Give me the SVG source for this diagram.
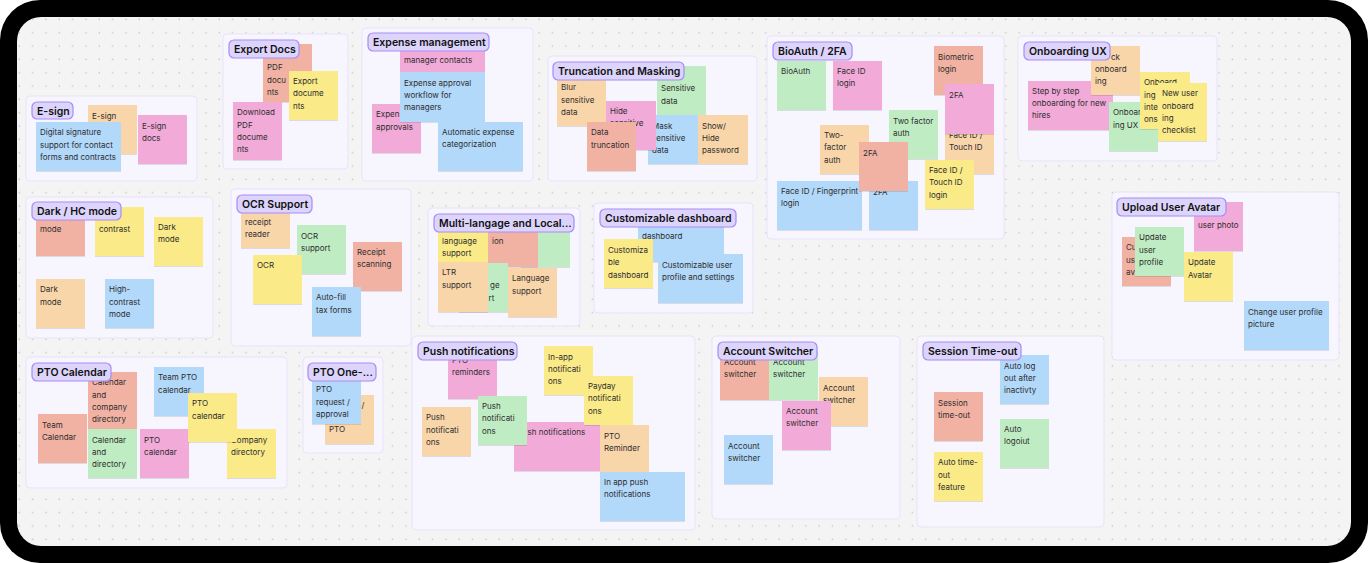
<svg xmlns="http://www.w3.org/2000/svg" width="1368" height="563" viewBox="0 0 1368 563">
<style>
.sec{fill:#f7f5fe;stroke:#e8e3fb;stroke-width:1}
.tag{fill:#ddd4fc;stroke:#a78bf6;stroke-width:1.2}
.tt{font-family:Inter,"Liberation Sans",sans-serif;font-size:10.5px;font-weight:600;fill:#111}
.n{filter:url(#sh)}
.y{fill:#faea88}.b{fill:#b2d8fa}.p{fill:#f2aad8}.g{fill:#c0ecc4}.o{fill:#f9d5aa}.s{fill:#f1b2a3}
.nt{font-family:Inter,"Liberation Sans",sans-serif;font-size:8px;fill:#2e2e2e}
</style>
<defs>
<pattern id="dots" width="13.33" height="13.33" patternUnits="userSpaceOnUse"><circle cx="6" cy="6" r="0.8" fill="#c4c4c4"/></pattern>
<filter id="sh" x="-10%" y="-10%" width="120%" height="125%"><feDropShadow dx="0" dy="0.6" stdDeviation="0.6" flood-color="#000" flood-opacity="0.18"/></filter>
</defs>
<rect width="1368" height="563" fill="#fff"/>
<rect x="0" y="0" width="1368" height="563" rx="40" fill="#000"/>
<rect x="17" y="17" width="1334" height="529" rx="24" fill="#f4f4f4"/>
<rect x="17" y="17" width="1334" height="529" rx="24" fill="url(#dots)"/>
<g id="connectors"/>

<g id="sec-esign">
<rect class="sec" x="26" y="96" width="171" height="85" rx="4"/>
<g id="n-esign1"><rect class="n o" x="88" y="105" width="49" height="49"/><text class="nt" x="92" y="118.7">E-sign</text></g>
<g id="n-esign2"><rect class="n p" x="138" y="115" width="49" height="49"/><text class="nt" y="128.7"><tspan x="142">E-sign</tspan><tspan x="142" dy="12.3">docs</tspan></text></g>
<g id="n-esign3"><rect class="n b" x="36" y="122" width="85" height="49"/><text class="nt" y="135.3"><tspan x="40">Digital signature</tspan><tspan x="40" dy="12.3">support for contact</tspan><tspan x="40" dy="12.3">forms and contracts</tspan></text></g>
<g id="t-esign"><rect class="tag" x="32" y="102" width="41" height="17" rx="5"/><text class="tt" x="37" y="114.5">E-sign</text></g>
</g>

<g id="sec-export">
<rect class="sec" x="223" y="34" width="125" height="135" rx="4"/>
<g id="n-exp1"><rect class="n s" x="263" y="44" width="49" height="58"/><text class="nt" y="70.3"><tspan x="267">PDF</tspan><tspan x="267" dy="12.3">docu</tspan><tspan x="267" dy="12.3">nts</tspan></text></g>
<g id="n-exp2"><rect class="n y" x="289" y="71" width="49" height="49"/><text class="nt" y="84"><tspan x="293">Export</tspan><tspan x="293" dy="12.3">docume</tspan><tspan x="293" dy="12.3">nts</tspan></text></g>
<g id="n-exp3"><rect class="n p" x="233" y="102" width="49" height="58"/><text class="nt" y="115.3"><tspan x="237">Download</tspan><tspan x="237" dy="12.3">PDF</tspan><tspan x="237" dy="12.3">docume</tspan><tspan x="237" dy="12.3">nts</tspan></text></g>
<g id="t-export"><rect class="tag" x="229" y="40" width="70" height="18" rx="5"/><text class="tt" x="234" y="53">Export Docs</text></g>
</g>

<g id="sec-expense">
<rect class="sec" x="362" y="28" width="171" height="153" rx="4"/>
<g id="n-ex1"><rect class="n p" x="400" y="37" width="85" height="49"/><text class="nt" x="404" y="63.3">manager contacts</text></g>
<g id="n-ex2"><rect class="n p" x="372" y="104" width="49" height="49"/><text class="nt" y="117.3"><tspan x="376">Expen</tspan><tspan x="376" dy="12.3">approvals</tspan></text></g>
<g id="n-ex3"><rect class="n b" x="400" y="72" width="85" height="50"/><text class="nt" y="85.7"><tspan x="404">Expense approval</tspan><tspan x="404" dy="12.3">workflow for</tspan><tspan x="404" dy="12.3">managers</tspan></text></g>
<g id="n-ex4"><rect class="n b" x="438" y="122" width="85" height="49"/><text class="nt" y="134.7"><tspan x="442">Automatic expense</tspan><tspan x="442" dy="12.3">categorization</tspan></text></g>
<g id="t-expense"><rect class="tag" x="368" y="33" width="121" height="18" rx="5"/><text class="tt" x="373" y="46">Expense management</text></g>
</g>

<g id="sec-trunc">
<rect class="sec" x="548" y="56" width="209" height="125" rx="4"/>
<g id="n-tr1"><rect class="n o" x="557" y="77" width="49" height="49"/><text class="nt" y="90.3"><tspan x="561">Blur</tspan><tspan x="561" dy="12.3">sensitive</tspan><tspan x="561" dy="12.3">data</tspan></text></g>
<g id="n-tr2"><rect class="n g" x="657" y="66" width="49" height="49"/><text class="nt" y="91.3"><tspan x="661">Sensitive</tspan><tspan x="661" dy="12.3">data</tspan></text></g>
<g id="n-tr3"><rect class="n b" x="648" y="115" width="50" height="49"/><text class="nt" y="128.7"><tspan x="652">Mask</tspan><tspan x="652" dy="12.3">sensitive</tspan><tspan x="652" dy="12.3">data</tspan></text></g>
<g id="n-tr4"><rect class="n p" x="606" y="101" width="50" height="49"/><text class="nt" y="113.7"><tspan x="610">Hide</tspan><tspan x="610" dy="12.3">sensitive</tspan></text></g>
<g id="n-tr5"><rect class="n s" x="587" y="122" width="49" height="49"/><text class="nt" y="135.3"><tspan x="591">Data</tspan><tspan x="591" dy="12.3">truncation</tspan></text></g>
<g id="n-tr6"><rect class="n o" x="698" y="115" width="50" height="49"/><text class="nt" y="128.7"><tspan x="702">Show/</tspan><tspan x="702" dy="12.3">Hide</tspan><tspan x="702" dy="12.3">password</tspan></text></g>
<g id="t-trunc"><rect class="tag" x="553" y="62" width="131" height="18" rx="5"/><text class="tt" x="558" y="75">Truncation and Masking</text></g>
</g>

<g id="sec-bio">
<rect class="sec" x="767" y="36" width="237" height="203" rx="4"/>
<g id="n-bio1"><rect class="n g" x="777" y="61" width="49" height="49"/><text class="nt" x="781" y="74">BioAuth</text></g>
<g id="n-bio2"><rect class="n p" x="833" y="61" width="49" height="49"/><text class="nt" y="74"><tspan x="837">Face ID</tspan><tspan x="837" dy="12.3">login</tspan></text></g>
<g id="n-bio3"><rect class="n s" x="934" y="46" width="49" height="49"/><text class="nt" y="59.7"><tspan x="938">Biometric</tspan><tspan x="938" dy="12.3">login</tspan></text></g>
<g id="n-bio4"><rect class="n o" x="945" y="125" width="49" height="49"/><text class="nt" y="138"><tspan x="949">Face ID /</tspan><tspan x="949" dy="12.3">Touch ID</tspan></text></g>
<g id="n-bio5"><rect class="n p" x="945" y="84" width="49" height="50"/><text class="nt" x="949" y="98">2FA</text></g>
<g id="n-bio6"><rect class="n g" x="889" y="110" width="49" height="49"/><text class="nt" y="123.7"><tspan x="893">Two factor</tspan><tspan x="893" dy="12.3">auth</tspan></text></g>
<g id="n-bio7"><rect class="n o" x="820" y="125" width="49" height="49"/><text class="nt" y="138"><tspan x="824">Two-</tspan><tspan x="824" dy="12.3">factor</tspan><tspan x="824" dy="12.3">auth</tspan></text></g>
<g id="n-bio8"><rect class="n b" x="777" y="181" width="85" height="49"/><text class="nt" y="194"><tspan x="781">Face ID / Fingerprint</tspan><tspan x="781" dy="12.3">login</tspan></text></g>
<g id="n-bio9"><rect class="n b" x="869" y="181" width="49" height="49"/><text class="nt" x="873" y="194.7">2FA</text></g>
<g id="n-bio10"><rect class="n s" x="859" y="142" width="49" height="49"/><text class="nt" x="863" y="155.7">2FA</text></g>
<g id="n-bio11"><rect class="n y" x="925" y="160" width="49" height="49"/><text class="nt" y="173"><tspan x="929">Face ID /</tspan><tspan x="929" dy="12.3">Touch ID</tspan><tspan x="929" dy="12.3">login</tspan></text></g>
<g id="t-bio"><rect class="tag" x="773" y="42" width="79" height="18" rx="5"/><text class="tt" x="778" y="55">BioAuth / 2FA</text></g>
</g>

<g id="sec-onb">
<rect class="sec" x="1018" y="36" width="199" height="125" rx="4"/>
<g id="n-on1"><rect class="n p" x="1028" y="81" width="85" height="49"/><text class="nt" y="93.7"><tspan x="1032">Step by step</tspan><tspan x="1032" dy="12.3">onboarding for new</tspan><tspan x="1032" dy="12.3">hires</tspan></text></g>
<g id="n-on2"><rect class="n o" x="1091" y="46" width="49" height="49"/><text class="nt" y="59.7"><tspan x="1111">ck</tspan><tspan x="1095" dy="12.3">onboard</tspan><tspan x="1095" dy="12.3">ing</tspan></text></g>
<g id="n-on3"><rect class="n g" x="1109" y="102" width="49" height="49"/><text class="nt" y="115.3"><tspan x="1113">Onboar</tspan><tspan x="1113" dy="12.3">ing UX</tspan></text></g>
<g id="n-on4"><rect class="n y" x="1140" y="72" width="50" height="57"/><text class="nt" y="85.3"><tspan x="1144">Onboard</tspan><tspan x="1144" dy="12.3">ing</tspan><tspan x="1144" dy="12.3">inte</tspan><tspan x="1144" dy="12.3">ons</tspan></text></g>
<g id="n-on5"><rect class="n y" x="1158" y="83" width="49" height="58"/><text class="nt" y="96.3"><tspan x="1162">New user</tspan><tspan x="1162" dy="12.3">onboard</tspan><tspan x="1162" dy="12.3">ing</tspan><tspan x="1162" dy="12.3">checklist</tspan></text></g>
<g id="t-onb"><rect class="tag" x="1024" y="42" width="86" height="18" rx="5"/><text class="tt" x="1029" y="55">Onboarding UX</text></g>
</g>

<g id="sec-dark">
<rect class="sec" x="26" y="197" width="187" height="141" rx="4"/>
<g id="n-dk1"><rect class="n s" x="36" y="207" width="49" height="49"/><text class="nt" x="40" y="232.3">mode</text></g>
<g id="n-dk2"><rect class="n y" x="95" y="207" width="49" height="49"/><text class="nt" x="99" y="232.3">contrast</text></g>
<g id="n-dk3"><rect class="n y" x="154" y="217" width="49" height="49"/><text class="nt" y="230"><tspan x="158">Dark</tspan><tspan x="158" dy="12.3">mode</tspan></text></g>
<g id="n-dk4"><rect class="n o" x="36" y="279" width="49" height="49"/><text class="nt" y="292.3"><tspan x="40">Dark</tspan><tspan x="40" dy="12.3">mode</tspan></text></g>
<g id="n-dk5"><rect class="n b" x="105" y="279" width="49" height="49"/><text class="nt" y="292.3"><tspan x="109">High-</tspan><tspan x="109" dy="12.3">contrast</tspan><tspan x="109" dy="12.3">mode</tspan></text></g>
<g id="t-dark"><rect class="tag" x="32" y="202" width="89" height="18" rx="5"/><text class="tt" x="37" y="215">Dark / HC mode</text></g>
</g>

<g id="sec-ocr">
<rect class="sec" x="231" y="189" width="180" height="157" rx="4"/>
<g id="n-oc1"><rect class="n o" x="241" y="199" width="49" height="49"/><text class="nt" y="224.7"><tspan x="245">receipt</tspan><tspan x="245" dy="12.3">reader</tspan></text></g>
<g id="n-oc2"><rect class="n g" x="297" y="225" width="49" height="49"/><text class="nt" y="239"><tspan x="301">OCR</tspan><tspan x="301" dy="12.3">support</tspan></text></g>
<g id="n-oc3"><rect class="n s" x="353" y="242" width="49" height="49"/><text class="nt" y="254.7"><tspan x="357">Receipt</tspan><tspan x="357" dy="12.3">scanning</tspan></text></g>
<g id="n-oc4"><rect class="n y" x="253" y="255" width="49" height="49"/><text class="nt" x="257" y="268.3">OCR</text></g>
<g id="n-oc5"><rect class="n b" x="312" y="287" width="49" height="49"/><text class="nt" y="300.3"><tspan x="316">Auto-fill</tspan><tspan x="316" dy="12.3">tax forms</tspan></text></g>
<g id="t-ocr"><rect class="tag" x="237" y="195" width="75" height="18" rx="5"/><text class="tt" x="242" y="208">OCR Support</text></g>
</g>

<g id="sec-multi">
<rect class="sec" x="428" y="208" width="152" height="118" rx="4"/>
<g id="n-ml1"><rect class="n g" x="521" y="218" width="49" height="49"/></g>
<g id="n-ml2"><rect class="n s" x="488" y="218" width="50" height="49"/><text class="nt" x="492" y="243.7">ion</text></g>
<g id="n-ml3"><rect class="n y" x="438" y="218" width="50" height="49"/><text class="nt" y="243.7"><tspan x="442">language</tspan><tspan x="442" dy="12.3">support</tspan></text></g>
<g id="n-ml4"><rect class="n g" x="459" y="263" width="49" height="49"/><text class="nt" y="288.3"><tspan x="490">ge</tspan><tspan x="488.5" dy="12.3">rt</tspan></text></g>
<g id="n-ml5"><rect class="n o" x="438" y="262" width="50" height="50"/><text class="nt" y="275.3"><tspan x="442">LTR</tspan><tspan x="442" dy="12.3">support</tspan></text></g>
<g id="n-ml6"><rect class="n o" x="508" y="268" width="49" height="49"/><text class="nt" y="281.3"><tspan x="512">Language</tspan><tspan x="512" dy="12.3">support</tspan></text></g>
<g id="t-multi"><rect class="tag" x="434" y="214" width="140" height="18" rx="5"/><text class="tt" x="439" y="227">Multi-langage and Local...</text></g>
</g>

<g id="sec-custom">
<rect class="sec" x="594" y="203" width="159" height="110" rx="4"/>
<g id="n-cu1"><rect class="n b" x="638" y="213" width="86" height="49"/><text class="nt" x="642" y="239">dashboard</text></g>
<g id="n-cu2"><rect class="n b" x="658" y="254" width="85" height="49"/><text class="nt" y="268"><tspan x="662">Customizable user</tspan><tspan x="662" dy="12.3">profile and settings</tspan></text></g>
<g id="n-cu3"><rect class="n y" x="604" y="239" width="49" height="49"/><text class="nt" y="253"><tspan x="608">Customiza</tspan><tspan x="608" dy="12.3">ble</tspan><tspan x="608" dy="12.3">dashboard</tspan></text></g>
<g id="t-custom"><rect class="tag" x="600" y="209" width="136" height="18" rx="5"/><text class="tt" x="605" y="222">Customizable dashboard</text></g>
</g>

<g id="sec-avatar">
<rect class="sec" x="1112" y="192" width="227" height="168" rx="4"/>
<g id="n-av1"><rect class="n p" x="1194" y="202" width="49" height="49"/><text class="nt" x="1198" y="228">user photo</text></g>
<g id="n-av2"><rect class="n s" x="1122" y="237" width="49" height="49"/><text class="nt" y="250.3"><tspan x="1126">Cu</tspan><tspan x="1126" dy="12.3">us</tspan><tspan x="1126" dy="12.3">av</tspan></text></g>
<g id="n-av3"><rect class="n g" x="1135" y="227" width="49" height="49"/><text class="nt" y="240.3"><tspan x="1139">Update</tspan><tspan x="1139" dy="12.3">user</tspan><tspan x="1139" dy="12.3">profile</tspan></text></g>
<g id="n-av4"><rect class="n y" x="1184" y="252" width="49" height="49"/><text class="nt" y="265.3"><tspan x="1188">Update</tspan><tspan x="1188" dy="12.3">Avatar</tspan></text></g>
<g id="n-av5"><rect class="n b" x="1244" y="301" width="85" height="49"/><text class="nt" y="314.7"><tspan x="1248">Change user profile</tspan><tspan x="1248" dy="12.3">picture</tspan></text></g>
<g id="t-avatar"><rect class="tag" x="1117" y="198" width="109" height="18" rx="5"/><text class="tt" x="1122" y="211">Upload User Avatar</text></g>
</g>

<g id="sec-ptocal">
<rect class="sec" x="26" y="357" width="261" height="131" rx="4"/>
<g id="n-pc1"><rect class="n s" x="88" y="372" width="49" height="58"/><text class="nt" y="385.3"><tspan x="92">Calendar</tspan><tspan x="92" dy="12.3">and</tspan><tspan x="92" dy="12.3">company</tspan><tspan x="92" dy="12.3">directory</tspan></text></g>
<g id="n-pc2"><rect class="n b" x="154" y="367" width="50" height="49"/><text class="nt" y="380.3"><tspan x="158">Team PTO</tspan><tspan x="158" dy="12.3">calendar</tspan></text></g>
<g id="n-pc3"><rect class="n s" x="38" y="414" width="49" height="49"/><text class="nt" y="428"><tspan x="42">Team</tspan><tspan x="42" dy="12.3">Calendar</tspan></text></g>
<g id="n-pc4"><rect class="n g" x="88" y="429" width="49" height="49"/><text class="nt" y="442.7"><tspan x="92">Calendar</tspan><tspan x="92" dy="12.3">and</tspan><tspan x="92" dy="12.3">directory</tspan></text></g>
<g id="n-pc5"><rect class="n p" x="140" y="429" width="49" height="49"/><text class="nt" y="442.7"><tspan x="144">PTO</tspan><tspan x="144" dy="12.3">calendar</tspan></text></g>
<g id="n-pc6"><rect class="n y" x="227" y="429" width="49" height="49"/><text class="nt" y="443"><tspan x="231">Company</tspan><tspan x="231" dy="12.3">directory</tspan></text></g>
<g id="n-pc7"><rect class="n y" x="188" y="393" width="49" height="49"/><text class="nt" y="406.3"><tspan x="192">PTO</tspan><tspan x="192" dy="12.3">calendar</tspan></text></g>
<g id="t-ptocal"><rect class="tag" x="32" y="363" width="79" height="18" rx="5"/><text class="tt" x="37" y="376">PTO Calendar</text></g>
</g>

<g id="sec-ptoone">
<rect class="sec" x="303" y="357" width="80" height="96" rx="4"/>
<g id="n-po1"><rect class="n o" x="325" y="395" width="49" height="49"/><text class="nt" x="361.5" y="408">/</text><text class="nt" x="329" y="432.3">PTO</text></g>
<g id="n-po2"><rect class="n b" x="312" y="366" width="49" height="58"/><text class="nt" y="392.3"><tspan x="316">PTO</tspan><tspan x="316" dy="12.3">request /</tspan><tspan x="316" dy="12.3">approval</tspan></text></g>
<g id="t-ptoone"><rect class="tag" x="308" y="363" width="68" height="18" rx="5"/><text class="tt" x="313" y="376">PTO One-...</text></g>
</g>

<g id="sec-push">
<rect class="sec" x="412" y="336" width="283" height="194" rx="4"/>
<g id="n-pu1"><rect class="n p" x="448" y="350" width="49" height="49"/><text class="nt" y="363"><tspan x="452">PTO</tspan><tspan x="452" dy="12.3">reminders</tspan></text></g>
<g id="n-pu2"><rect class="n y" x="544" y="346" width="49" height="49"/><text class="nt" y="359.7"><tspan x="548">In-app</tspan><tspan x="548" dy="12.3">notificati</tspan><tspan x="548" dy="12.3">ons</tspan></text></g>
<g id="n-pu3"><rect class="n p" x="514" y="422" width="86" height="49"/><text class="nt" x="527.5" y="435.3">sh notifications</text></g>
<g id="n-pu4"><rect class="n g" x="478" y="396" width="49" height="49"/><text class="nt" y="409"><tspan x="482">Push</tspan><tspan x="482" dy="12.3">notificati</tspan><tspan x="482" dy="12.3">ons</tspan></text></g>
<g id="n-pu5"><rect class="n o" x="422" y="407" width="49" height="49"/><text class="nt" y="420.3"><tspan x="426">Push</tspan><tspan x="426" dy="12.3">notificati</tspan><tspan x="426" dy="12.3">ons</tspan></text></g>
<g id="n-pu6"><rect class="n y" x="584" y="376" width="49" height="49"/><text class="nt" y="389"><tspan x="588">Payday</tspan><tspan x="588" dy="12.3">notificati</tspan><tspan x="588" dy="12.3">ons</tspan></text></g>
<g id="n-pu7"><rect class="n o" x="600" y="425" width="49" height="49"/><text class="nt" y="438.7"><tspan x="604">PTO</tspan><tspan x="604" dy="12.3">Reminder</tspan></text></g>
<g id="n-pu8"><rect class="n b" x="600" y="472" width="85" height="49"/><text class="nt" y="485"><tspan x="604">In app push</tspan><tspan x="604" dy="12.3">notifications</tspan></text></g>
<g id="t-push"><rect class="tag" x="418" y="342" width="99" height="18" rx="5"/><text class="tt" x="423" y="355">Push notifications</text></g>
</g>

<g id="sec-account">
<rect class="sec" x="712" y="336" width="188" height="183" rx="4"/>
<g id="n-ac1"><rect class="n s" x="720" y="351" width="49" height="49"/><text class="nt" y="364.7"><tspan x="724">Account</tspan><tspan x="724" dy="12.3">switcher</tspan></text></g>
<g id="n-ac2"><rect class="n g" x="769" y="351" width="49" height="49"/><text class="nt" y="364.7"><tspan x="773">Account</tspan><tspan x="773" dy="12.3">switcher</tspan></text></g>
<g id="n-ac3"><rect class="n o" x="819" y="377" width="49" height="49"/><text class="nt" y="390.7"><tspan x="823">Account</tspan><tspan x="823" dy="12.3">switcher</tspan></text></g>
<g id="n-ac4"><rect class="n p" x="782" y="401" width="49" height="49"/><text class="nt" y="414"><tspan x="786">Account</tspan><tspan x="786" dy="12.3">switcher</tspan></text></g>
<g id="n-ac5"><rect class="n b" x="724" y="435" width="49" height="49"/><text class="nt" y="448.7"><tspan x="728">Account</tspan><tspan x="728" dy="12.3">switcher</tspan></text></g>
<g id="t-account"><rect class="tag" x="718" y="342" width="99" height="18" rx="5"/><text class="tt" x="723" y="355">Account Switcher</text></g>
</g>

<g id="sec-session">
<rect class="sec" x="917" y="336" width="187" height="191" rx="4"/>
<g id="n-se1"><rect class="n b" x="1000" y="355" width="49" height="49"/><text class="nt" y="368.7"><tspan x="1004">Auto log</tspan><tspan x="1004" dy="12.3">out after</tspan><tspan x="1004" dy="12.3">inactivty</tspan></text></g>
<g id="n-se2"><rect class="n s" x="934" y="392" width="49" height="49"/><text class="nt" y="405.7"><tspan x="938">Session</tspan><tspan x="938" dy="12.3">time-out</tspan></text></g>
<g id="n-se3"><rect class="n g" x="1000" y="419" width="49" height="49"/><text class="nt" y="432"><tspan x="1004">Auto</tspan><tspan x="1004" dy="12.3">logoiut</tspan></text></g>
<g id="n-se4"><rect class="n y" x="934" y="452" width="49" height="49"/><text class="nt" y="465.3"><tspan x="938">Auto time-</tspan><tspan x="938" dy="12.3">out</tspan><tspan x="938" dy="12.3">feature</tspan></text></g>
<g id="t-session"><rect class="tag" x="923" y="342" width="98" height="18" rx="5"/><text class="tt" x="928" y="355">Session Time-out</text></g>
</g>
</svg>
